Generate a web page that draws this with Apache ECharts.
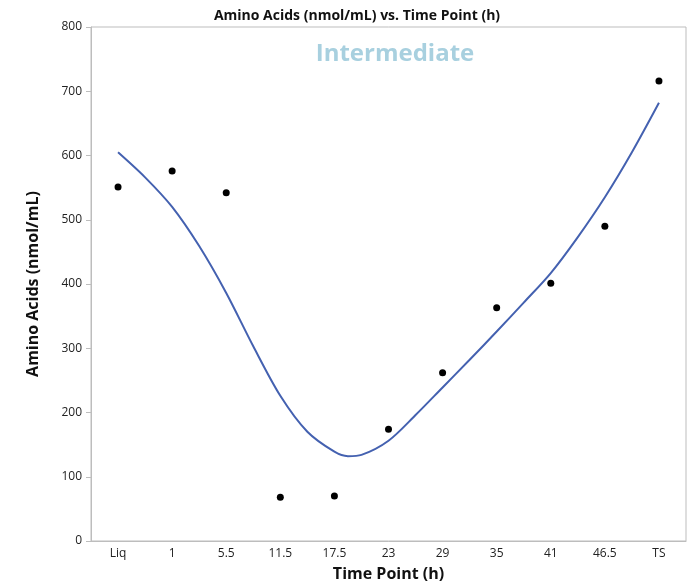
<!DOCTYPE html>
<html>
<head>
<meta charset="utf-8">
<script src="https://cdn.jsdelivr.net/npm/echarts@6/dist/echarts.min.js"></script>
<style>
  html, body { margin: 0; padding: 0; background: #fff; }
  #chart { width: 690px; height: 585px; }
</style>
</head>
<body>
<div id="chart"></div>
<script>
// time points on the x axis
const timePoints = ['Liq', '1', '5.5', '11.5', '17.5', '23', '29', '35', '41', '46.5', 'TS'];
// measured amino acids (nmol/mL)
const aminoAcids = [551, 576, 542, 68, 70, 174, 262, 363, 401, 490, 716];
// blue fit curve (position in category steps)
const fitPos = [0, 0.5, 1, 1.5, 2, 2.5, 3, 3.5, 4, 4.25, 4.5, 5, 5.5, 6, 6.5, 7, 7.5, 8, 8.5, 9, 9.5, 10];
const fitVal = [605, 566, 520, 459, 386, 303, 226, 170, 139, 132, 134, 156, 196, 239, 282, 326, 371, 417, 473, 535, 605, 682];
const yTicks = [0, 100, 200, 300, 400, 500, 600, 700, 800];

const font = '"Open Sans", "Noto Sans", sans-serif';
const chart = echarts.init(document.getElementById('chart'));

chart.setOption({
  animation: false,
  title: [
    {
      text: 'Amino Acids (nmol/mL) vs. Time Point (h)',
      left: 352, top: 4, textAlign: 'center',
      textStyle: { fontFamily: font, fontSize: 14, fontWeight: 'bold', color: '#111' }
    },
    {
      text: 'Intermediate',
      left: 390, top: 37, textAlign: 'center',
      textStyle: { fontFamily: font, fontSize: 24, fontWeight: 'bold', color: '#a8d0df' }
    }
  ],
  grid: {
    left: 91, right: 4, top: 27, bottom: 44,
    outerBoundsMode: 'none',
    show: true, borderColor: '#bdbdbd', borderWidth: 1
  },
  xAxis: [
    {
      type: 'category',
      data: timePoints,
      boundaryGap: true,
      name: 'Time Point (h)',
      nameLocation: 'middle',
      nameGap: 25,
      nameTextStyle: { fontFamily: font, fontSize: 16, fontWeight: 'bold', color: '#111' },
      axisLine: { lineStyle: { color: '#bdbdbd' } },
      axisTick: { show: false },
      axisLabel: { fontFamily: font, fontSize: 12, color: '#222', margin: 7 },
      splitLine: { show: false }
    },
    {
      type: 'value',
      min: -0.5, max: 10.5,
      show: false
    }
  ],
  yAxis: {
    type: 'value',
    position: 'left',
    min: yTicks[0], max: yTicks[yTicks.length - 1], interval: 100,
    name: 'Amino Acids (nmol/mL)',
    nameLocation: 'middle',
    nameGap: 50,
    nameTextStyle: { fontFamily: font, fontSize: 16, fontWeight: 'bold', color: '#111' },
    axisLine: { show: true, onZero: false, lineStyle: { color: '#bdbdbd' } },
    axisTick: { show: true, length: 5, lineStyle: { color: '#bdbdbd' } },
    axisLabel: { fontFamily: font, fontSize: 12, color: '#222', margin: 9 },
    splitLine: { show: false }
  },
  series: [
    {
      type: 'line',
      xAxisIndex: 1,
      data: fitPos.map((p, i) => [p, fitVal[i]]),
      smooth: 0.3,
      showSymbol: false,
      lineStyle: { color: '#4461b0', width: 2 },
      z: 2
    },
    {
      type: 'scatter',
      data: aminoAcids,
      symbolSize: 7,
      itemStyle: { color: '#000', opacity: 1 },
      z: 3
    }
  ]
});
</script>
</body>
</html>
